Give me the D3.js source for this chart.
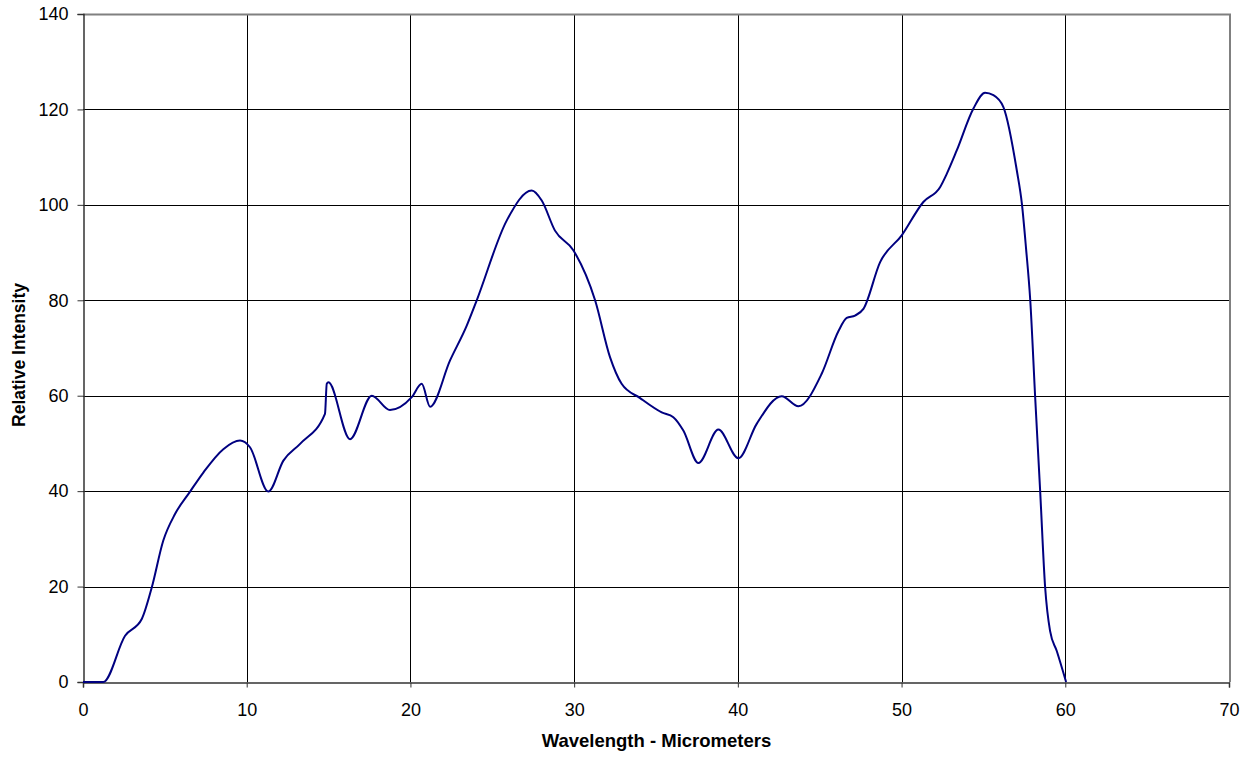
<!DOCTYPE html>
<html>
<head>
<meta charset="utf-8">
<script src="https://cdn.jsdelivr.net/npm/d3@7/dist/d3.min.js"></script>
<style>
html,body{margin:0;padding:0;background:#fff;}
svg{display:block;font-family:"Liberation Sans",Arial,sans-serif;}
</style>
</head>
<body>
<svg id="chart" width="1254" height="757"></svg>
<script>
const wavelength = [0,1.24,2.57,3.59,4.2,4.9,5.62,6.54,7.35,8.57,9.59,10.2,11.32,12.24,13.26,14.78,14.89,14.99,16.31,17.64,18.75,20.08,20.69,21.2,22.42,23.44,24.05,25.88,27.41,28.02,28.83,29.95,31.28,32.19,32.9,34.03,35.35,36.06,36.67,37.59,38.81,40.03,41.15,42.68,43.7,45.12,46.14,46.65,47.16,47.67,48.69,50.01,51.33,52.35,52.76,53.37,54.39,55.1,55.61,56.22,57.04,57.35,57.6,57.86,58.16,58.47,58.77,59.07,59.48,60.05];
const intensity = [0,0,9.7,13.2,19.8,29.6,35.2,39.9,43.9,48.8,50.6,49.2,39.9,46.4,49.9,56.2,62.5,62.8,50.9,60.0,57.0,59.7,62.5,57.7,67.4,74.7,80.0,96.7,103.0,100.9,94.6,90.5,80.0,68.1,62.5,59.5,56.5,55.5,52.7,45.9,52.9,46.9,54.1,59.9,57.8,64.6,73.5,76.3,76.8,78.2,88.0,93.6,100.6,103.7,106.5,111.4,120.2,123.5,123.0,120.5,107.2,100.2,91.0,80.0,59.7,39.7,19.8,10.7,6.5,0];
const xTicks = [0,10,20,30,40,50,60,70];
const yTicks = [0,20,40,60,80,100,120,140];

const svg = d3.select("#chart");
const margin = {left:83, top:14, right:1229, bottom:682};
const x = d3.scaleLinear().domain([0,70]).range([margin.left, margin.right]);
const y = d3.scaleLinear().domain([0,140]).range([margin.bottom, margin.top]);
const fnt = "'Liberation Sans',Arial,sans-serif";

// grid
svg.append("g").selectAll("line").data(yTicks.slice(1,-1)).join("line")
  .attr("x1", margin.left).attr("x2", margin.right)
  .attr("y1", d=>Math.round(y(d))+0.5).attr("y2", d=>Math.round(y(d))+0.5)
  .attr("stroke","#000").attr("stroke-width",1);
svg.append("g").selectAll("line").data(xTicks.slice(1,-1)).join("line")
  .attr("y1", margin.top).attr("y2", margin.bottom)
  .attr("x1", d=>Math.round(x(d))+0.5).attr("x2", d=>Math.round(x(d))+0.5)
  .attr("stroke","#000").attr("stroke-width",1);

// plot border (top/right)
svg.append("path")
  .attr("d",`M${margin.left},${margin.top+0.5}H${margin.right+1}V${margin.bottom}`)
  .attr("fill","none").attr("stroke","#808080").attr("stroke-width",2);

// axes
const xAxis = d3.axisBottom(x).tickValues(xTicks).tickSize(5).tickPadding(16);
const yAxis = d3.axisLeft(y).tickValues(yTicks).tickSize(6).tickPadding(9);
const gx = svg.append("g").attr("transform",`translate(0,${Math.round(y(0))+0.5})`).call(xAxis);
const gy = svg.append("g").attr("transform",`translate(${Math.round(x(0))+0.5},0)`).call(yAxis);
[gx,gy].forEach(g=>{
  g.attr("font-size",18).attr("font-family",fnt);
  g.select(".domain").attr("stroke","#333").attr("stroke-width",1.5);
  g.selectAll(".tick line").attr("stroke","#333");
  g.selectAll("text").attr("font-size",18).attr("fill","#000").attr("font-family",fnt);
});

// line
const line = d3.line().x((d,i)=>x(wavelength[i])).y(d=>y(d)).curve(d3.curveMonotoneX);
svg.append("path").datum(intensity).attr("d",line)
  .attr("fill","none").attr("stroke","#000080").attr("stroke-width",2);

// titles
svg.append("text").attr("x",656.5).attr("y",747)
  .attr("text-anchor","middle").attr("font-weight","bold").attr("font-size",18.5)
  .attr("font-family",fnt).text("Wavelength - Micrometers");
svg.append("text").attr("transform",`translate(25,355) rotate(-90)`)
  .attr("text-anchor","middle").attr("font-weight","bold").attr("font-size",17.5)
  .attr("font-family",fnt).text("Relative Intensity");
</script>
</body>
</html>
